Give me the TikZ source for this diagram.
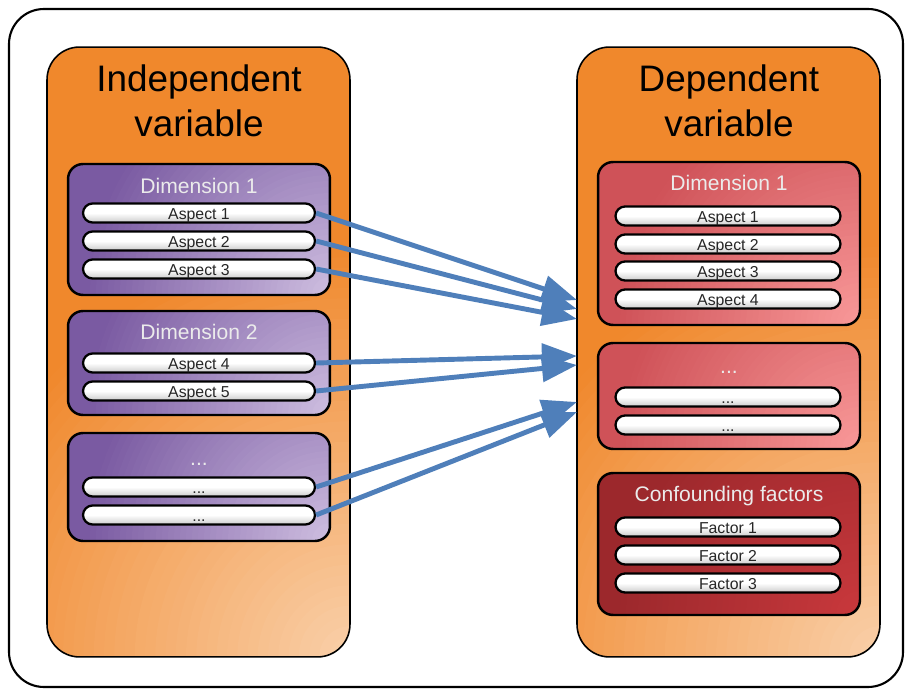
\documentclass[tikz,border=0pt]{standalone}
\usepackage{fontspec}
\setmainfont{Liberation Sans}
\usetikzlibrary{arrows.meta}

\definecolor{panelorange}{HTML}{F0882C}
\definecolor{panelpeach}{HTML}{F9CFA8}
\definecolor{dimpurple}{HTML}{7A5AA2}
\definecolor{dimlilac}{HTML}{CDBDDF}
\definecolor{dimred}{HTML}{CF5258}
\definecolor{dimpink}{HTML}{F89898}
\definecolor{cfdark}{HTML}{9C282C}
\definecolor{cfred}{HTML}{C8383C}
\definecolor{linkblue}{HTML}{4F7FBA}

\begin{document}
\begin{tikzpicture}[x=0.02cm, y=-0.02cm,
        % light corner at the lower right, built from rings
        glow/.style n args={3}{fill=#1, path picture={
            \foreach \k [evaluate=\k as \p using {int(100*\k/40)}, evaluate=\k as \r using {#3*(41-\k)/40}] in {1,...,40}
                \fill[#2!\p!#1] (path picture bounding box.south east) circle (\r cm);}},
        panel/.style={draw, line width=0.9pt, rounded corners=0.65cm, minimum width=6.06cm, minimum height=12.2cm,
            glow={panelorange}{panelpeach}{8.2}},
        paneltitle/.style={align=center, font=\fontsize{21}{25.5}\selectfont},
        dimbox/.style={draw, line width=1.4pt, rounded corners=0.3cm, minimum width=5.24cm},
        ivbox/.style={dimbox, glow={dimpurple}{dimlilac}{4.8}},
        dvbox/.style={dimbox, glow={dimred}{dimpink}{4.8}},
        cfbox/.style={dimbox, glow={cfdark}{cfred}{4.8}},
        dimtitle/.style={anchor=base, text=white!92!black, font=\fontsize{12}{14}\selectfont},
        bar/.style={draw, line width=1.3pt, rounded corners=0.19cm, minimum height=0.38cm, inner sep=0pt,
            top color=white, bottom color=black!20, middle color=white, text=black!85,
            text height=0.72em, text depth=0pt, font=\fontsize{9}{10}\selectfont},
        ivbar/.style={bar, minimum width=4.64cm},
        dvbar/.style={bar, minimum width=4.5cm},
        link/.style={draw=linkblue, line width=2.8pt, -{Triangle[length=20pt, width=15pt]}}]

    \useasboundingbox (0,0) rectangle (907,689);
    \draw[line width=1.2pt, rounded corners=0.7cm] (9,9) rectangle (903,687);

    % independent side
    \node[panel] (iv) at (198.5,352) {};
    \node[paneltitle] (ivtitle) at (199,101) {Independent\\variable};

    \node[ivbox, minimum height=2.62cm] (iv1) at (199,229.5) {};
    \node[dimtitle] (iv1t) at (199,194) {Dimension 1};
    \node[ivbar] (a1) at (199,213) {Aspect 1};
    \node[ivbar] (a2) at (199,241) {Aspect 2};
    \node[ivbar] (a3) at (199,269) {Aspect 3};

    \node[ivbox, minimum height=2.08cm] (iv2) at (199,363) {};
    \node[dimtitle] (iv2t) at (199,340) {Dimension 2};
    \node[ivbar] (a4) at (199,363) {Aspect 4};
    \node[ivbar] (a5) at (199,391) {Aspect 5};

    \node[ivbox, minimum height=2.16cm] (iv3) at (199,487) {};
    \node[dimtitle] (iv3t) at (199,466) {...};
    \node[ivbar] (a6) at (199,487) {...};
    \node[ivbar] (a7) at (199,515) {...};

    % dependent side
    \node[panel] (dv) at (728.5,352) {};
    \node[paneltitle] (dvtitle) at (729,101) {Dependent\\variable};

    \node[dvbox, minimum height=3.26cm] (dv1) at (729,243.5) {};
    \node[dimtitle] (dv1t) at (729,191) {Dimension 1};
    \node[dvbar] (b1) at (728,216) {Aspect 1};
    \node[dvbar] (b2) at (728,244) {Aspect 2};
    \node[dvbar] (b3) at (728,271) {Aspect 3};
    \node[dvbar] (b4) at (728,299) {Aspect 4};

    \node[dvbox, minimum height=2.12cm] (dv2) at (729,396) {};
    \node[dimtitle] (dv2t) at (729,374) {...};
    \node[dvbar] (b5) at (728,397) {...};
    \node[dvbar] (b6) at (728,425) {...};

    \node[cfbox, minimum height=2.84cm] (cf) at (729,544) {};
    \node[dimtitle] (cft) at (729,501) {Confounding factors};
    \node[dvbar] (f1) at (728,527) {Factor 1};
    \node[dvbar] (f2) at (728,555) {Factor 2};
    \node[dvbar] (f3) at (728,583) {Factor 3};

    % arrow ends on the dependent panel
    \coordinate (t1) at (577,300);
    \coordinate (t2) at (577,309);
    \coordinate (t3) at (577,319);
    \coordinate (t4) at (577,356);
    \coordinate (t5) at (577,365);
    \coordinate (t6) at (577,402);
    \coordinate (t7) at (577,412);

    \foreach \s/\t in {a1/t1, a2/t2, a3/t3, a4/t4, a5/t5, a6/t6, a7/t7} {
        \draw[link] (\s.east) -- (\t);
    }
\end{tikzpicture}
\end{document}
